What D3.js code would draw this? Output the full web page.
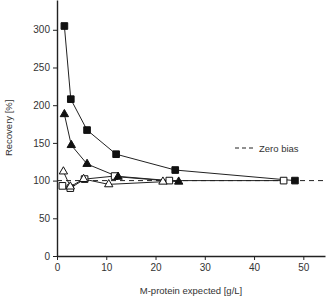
<!DOCTYPE html>
<html lang="en">
<head>
<meta charset="UTF-8">
<title>Recovery vs M-protein</title>
<script src="https://d3js.org/d3.v7.min.js"></script>
<style>
  body { margin: 0; background: #fff; }
  svg text { font-family: "Liberation Sans", Arial, sans-serif; fill: #333; }
  .axis path, .axis line { stroke: #222; }
</style>
</head>
<body>
<div id="chart"></div>
<script>
// data
const sqFilledX = [1.5, 2.8, 6.1, 12, 24, 48.3];
const sqFilledY = [305, 208, 167, 135, 114, 100];
const triFilledX = [1.5, 2.9, 6.1, 12.4, 24.7];
const triFilledY = [188, 147, 122, 105, 98.5];
const sqOpenX = [1.1, 2.7, 5.6, 11.7, 22.8, 46];
const sqOpenY = [93, 90, 102, 106, 100, 100];
const triOpenX = [1.3, 2.7, 5.4, 10.5, 21.5];
const triOpenY = [112, 92, 102, 95, 98.5];
const xTicks = [0, 10, 20, 30, 40, 50];
const yTicks = [0, 50, 100, 150, 200, 250, 300];
const zeroBias = 100;

const W = 327, H = 300;
const margin = {left: 57, top: 0, right: 2, bottom: 44};

const svg = d3.select("#chart").append("svg")
    .attr("width", W).attr("height", H);

const x = d3.scaleLinear().domain([0, 54.4]).range([margin.left, W - margin.right]);
const y = d3.scaleLinear().domain([0, 339.5]).range([H - margin.bottom, margin.top]);

// zero bias dashed line
svg.append("line")
    .attr("x1", x(0)).attr("x2", x(54.4))
    .attr("y1", y(zeroBias)).attr("y2", y(zeroBias))
    .attr("stroke", "#222").attr("stroke-width", 1)
    .attr("stroke-dasharray", "5,4");

// axes
svg.append("g").attr("class", "axis")
    .attr("transform", `translate(0,${y(0)})`)
    .call(d3.axisBottom(x).tickValues(xTicks).tickSize(4).tickSizeOuter(0).tickPadding(4));
svg.append("g").attr("class", "axis")
    .attr("transform", `translate(${x(0)},0)`)
    .call(d3.axisLeft(y).tickValues(yTicks).tickSize(4).tickSizeOuter(0).tickPadding(3));
svg.selectAll(".axis text").style("font-size", "10px");
svg.selectAll(".axis path").attr("stroke-width", 1.4);

svg.append("text")
    .attr("x", (x(0) + x(54.4)) / 2).attr("y", 294)
    .attr("text-anchor", "middle").style("font-size", "9.5px")
    .text("M-protein expected [g/L]");
svg.append("text")
    .attr("transform", `translate(12,${y(170)}) rotate(-90)`)
    .attr("text-anchor", "middle").style("font-size", "9.5px")
    .text("Recovery [%]");

// legend
svg.append("line")
    .attr("x1", 235).attr("x2", 253).attr("y1", 148).attr("y2", 148)
    .attr("stroke", "#222").attr("stroke-dasharray", "4,3");
svg.append("text")
    .attr("x", 259).attr("y", 151.5).style("font-size", "9.5px")
    .text("Zero bias");

const line = d3.line().x(d => x(d[0])).y(d => y(d[1]));
const zip = (a, b) => a.map((v, i) => [v, b[i]]);

const series = [
    {pts: zip(sqOpenX, sqOpenY), shape: d3.symbolSquare, fill: "#fff"},
    {pts: zip(triOpenX, triOpenY), shape: d3.symbolTriangle, fill: "#fff"},
    {pts: zip(triFilledX, triFilledY), shape: d3.symbolTriangle, fill: "#111"},
    {pts: zip(sqFilledX, sqFilledY), shape: d3.symbolSquare, fill: "#111"}
];

series.forEach(s => {
    svg.append("path").datum(s.pts)
        .attr("d", line).attr("fill", "none")
        .attr("stroke", "#222").attr("stroke-width", 1);
});
series.forEach(s => {
    svg.selectAll(null).data(s.pts).enter().append("path")
        .attr("transform", d => `translate(${x(d[0])},${y(d[1])})`)
        .attr("d", d3.symbol().type(s.shape).size(s.shape === d3.symbolSquare ? 44 : 30))
        .attr("fill", s.fill).attr("stroke", "#111").attr("stroke-width", 1);
});
</script>
</body>
</html>
